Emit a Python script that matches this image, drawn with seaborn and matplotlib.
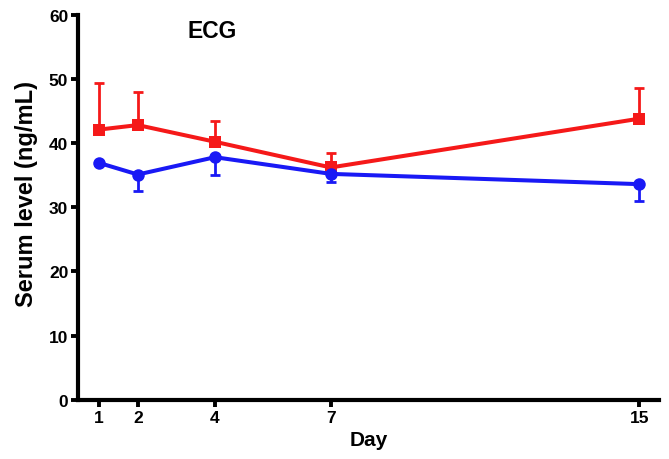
import matplotlib
matplotlib.use("Agg")
import matplotlib.pyplot as plt
import seaborn as sns
import pandas as pd
import numpy as np

days = [1, 2, 4, 7, 15]
red_mean = [42.1, 42.8, 40.2, 36.2, 43.8]
red_err = [7.2, 5.1, 3.2, 2.3, 4.7]
blue_mean = [36.9, 35.1, 37.8, 35.2, 33.6]
blue_err = [0.3, 2.5, 2.7, 1.3, 2.7]
yticks = [0, 10, 20, 30, 40, 50, 60]

sns.set_style("ticks")
plt.rcParams['font.family'] = ['Liberation Sans', 'DejaVu Sans']
plt.rcParams.update({
    "text.color": "black",
    "axes.labelcolor": "black",
    "xtick.color": "black",
    "ytick.color": "black",
})

fig = plt.figure(figsize=(6.69, 4.60), dpi=100)
ax = fig.add_axes([0.1166, 0.1285, 0.868, 0.8375])

df = pd.DataFrame({
    "Day": days * 2,
    "value": red_mean + blue_mean,
    "group": ["red"] * 5 + ["blue"] * 5,
})
palette = {"red": "#F51919", "blue": "#1919F5"}

# error bars (one-sided)
ax.errorbar(days, red_mean, yerr=[np.zeros(5), red_err], fmt="none",
            ecolor=palette["red"], elinewidth=2, capsize=3.7, capthick=2, zorder=2)
ax.errorbar(days, blue_mean, yerr=[blue_err, np.zeros(5)], fmt="none",
            ecolor=palette["blue"], elinewidth=2, capsize=3.7, capthick=2, zorder=2)

sns.lineplot(data=df, x="Day", y="value", hue="group", style="group",
             markers={"red": "s", "blue": "o"}, dashes=False, palette=palette,
             linewidth=2.9, markersize=9, markeredgewidth=0, legend=False, ax=ax,
             zorder=3)

ax.set_xlim(0.45, 15.5)
ax.set_ylim(0, 60)
ax.set_xticks(days)
ax.set_xticklabels([str(d) for d in days])
ax.set_yticks(yticks)
ax.set_yticklabels([str(t) for t in yticks])

for lbl in ax.get_xticklabels() + ax.get_yticklabels():
    lbl.set_fontweight("bold")
    lbl.set_fontsize(12.5)
    lbl.set_color("black")

ax.tick_params(axis="both", direction="out", length=5, width=2.8, pad=2, color="black")
ax.set_xlabel("Day", fontsize=15, fontweight="bold", labelpad=4, color="black")
ax.set_ylabel("Serum level (ng/mL)", fontsize=17, fontweight="bold", color="black")
ax.yaxis.label.set_va("center")
ax.yaxis.set_label_coords(-0.0895, 0.537)

for side in ["top", "right"]:
    ax.spines[side].set_visible(False)
for side in ["left", "bottom"]:
    ax.spines[side].set_linewidth(3)
    ax.spines[side].set_color("black")

ax.text(3.92, 57.6, "ECG", ha="center", va="center", fontsize=16.5,
        fontweight="bold", color="black")

fig.savefig("out.png", dpi=100)
